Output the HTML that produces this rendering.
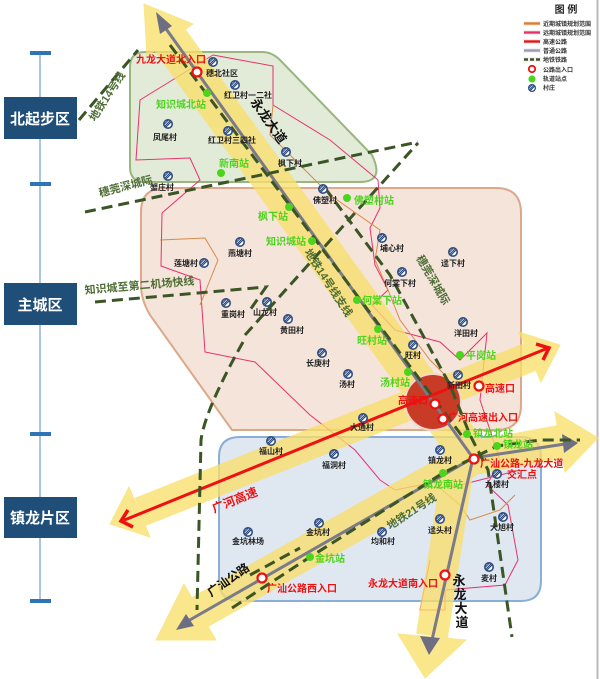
<!DOCTYPE html>
<html><head><meta charset="utf-8"><style>
html,body{margin:0;padding:0;background:#fff;}
svg{display:block;font-family:"Liberation Sans","Noto Sans CJK SC",sans-serif;}
.v{font-size:8px;font-weight:bold;fill:#222;text-anchor:middle;}
.s{font-size:10px;font-weight:bold;fill:#4cd41c;}
.r{font-size:10px;font-weight:bold;fill:#ee1111;}
.g{font-size:11px;font-weight:bold;fill:#4e6e35;}
.lg{font-size:6px;font-weight:bold;fill:#333;}
</style></head><body>
<svg width="600" height="679" viewBox="0 0 600 679" xmlns="http://www.w3.org/2000/svg">
<defs>
<g id="vil"><circle r="5" fill="#2c4b80"/><circle r="3.4" fill="#fff"/><line x1="-3" y1="2" x2="2" y2="-3" stroke="#2c4b80" stroke-width="1.2"/><line x1="-2" y1="3" x2="3" y2="-2" stroke="#2c4b80" stroke-width="1.2"/><line x1="-3.5" y1="0" x2="0" y2="-3.5" stroke="#2c4b80" stroke-width="1"/></g>
</defs>
<!-- right border -->
<line x1="597.5" y1="0" x2="597.5" y2="679" stroke="#bbb" stroke-width="2"/>
<!-- left axis -->
<line x1="40" y1="53" x2="40" y2="601" stroke="#8fb4dc" stroke-width="1.5"/>
<rect x="30" y="51" width="21" height="4" fill="#2e75b6"/>
<rect x="30" y="182" width="21" height="4" fill="#2e75b6"/>
<rect x="30" y="432" width="21" height="4" fill="#2e75b6"/>
<rect x="30" y="599" width="21" height="4" fill="#2e75b6"/>
<rect x="4" y="97" width="73" height="42" fill="#1f4e79"/>
<text x="40" y="124" font-size="15" font-weight="bold" fill="#fff" text-anchor="middle">北起步区</text>
<rect x="4" y="283" width="73" height="42" fill="#1f4e79"/>
<text x="40" y="310" font-size="15" font-weight="bold" fill="#fff" text-anchor="middle">主城区</text>
<rect x="4" y="497" width="73" height="41" fill="#1f4e79"/>
<text x="40" y="523" font-size="15" font-weight="bold" fill="#fff" text-anchor="middle">镇龙片区</text>

<!-- regions -->
<path d="M145,52 L262,52 Q272,52 280,60 L372,155 Q385,182 360,182 L145,182 Q130,182 130,167 L130,67 Q130,52 145,52 Z" fill="#e2ead8" stroke="#9ab57e" stroke-width="2"/>
<path d="M165,188 L496,188 Q521,188 521,213 L521,405 Q521,430 496,430 L232,430 L150,315 Q141,300 141,285 L141,212 Q141,188 165,188 Z" fill="#f4e4da" stroke="#dba98a" stroke-width="2"/>
<path d="M240,437 L521,437 Q541,437 541,457 L541,581 Q541,601 521,601 L240,601 Q219,601 219,581 L219,457 Q219,437 240,437 Z" fill="#dfe7f1" stroke="#8aaed6" stroke-width="2"/>

<!-- boundary lines -->
<polyline points="213,55 140,100 136,160 190,158 200,180 162,213 161,266 200,280 205,352 255,362 310,415 355,450 380,480 395,490 420,485 438,488 460,485 500,475 520,470" fill="none" stroke="#e8326e" stroke-width="1"/>
<polyline points="213,55 273,66 273,105 330,140 378,180 380,208 370,228 375,265 388,290 372,305 395,330 440,342 460,360 480,340 487,333 480,400 500,460 487,485 508,505 518,560 505,585 445,590 445,610 420,610 430,560" fill="none" stroke="#e8326e" stroke-width="1"/>
<polyline points="273,105 270,135 300,165 330,195 380,230 375,260 388,290 400,320 430,360 450,380" fill="none" stroke="#d9894a" stroke-width="1"/>
<polyline points="160,240 205,238 218,260 200,305" fill="none" stroke="#d9894a" stroke-width="1"/>
<polyline points="440,488 460,505 470,520 500,510 515,495" fill="none" stroke="#d9894a" stroke-width="1"/>

<!-- yellow bands -->
<g fill="#f9df6b" stroke="#f9df6b" opacity="0.78">
<polyline points="170,40 468,452" fill="none" stroke-width="38"/>
<polygon points="193,24 147,56 144,4"/>
<polyline points="462,440 432,636" fill="none" stroke-width="32"/>
<polygon points="466,640 398,634 425,678"/>
<polyline points="140,512 530,357" fill="none" stroke-width="30"/>
<polygon points="150,537 129,487 110,524"/>
<polygon points="541,382 519,332 560,345"/>
<polyline points="200,612 473,458 560,442" fill="none" stroke-width="34" stroke-linejoin="round"/>
<polygon points="216,640 184,584 156,640"/>
<polygon points="565,472 555,412 598,438"/>
</g>

<!-- red circle -->
<circle cx="433" cy="402" r="28" fill="#c42a1a" opacity="0.9" stroke="#f6d7cf" stroke-width="2"/>

<!-- gray roads -->
<g stroke="#7a7a88" stroke-width="3" fill="none">
<polyline points="164,26 473,458 432,640"/>
<polyline points="188,621 473,458 565,444"/>
</g>
<g fill="#6e6e82">
<polygon points="156,12 172,26 160,34"/>
<polygon points="429,655 420,636 440,638"/>
<polygon points="176,630 186,614 194,626"/>
<polygon points="578,443 562,434 564,453"/>
</g>

<!-- red highway -->
<line x1="122" y1="521" x2="548" y2="348" stroke="#ee1111" stroke-width="3"/>
<polyline points="128,510 121,521 133,527" fill="none" stroke="#ee1111" stroke-width="3.5"/>
<polyline points="536,344 549,348 543,360" fill="none" stroke="#ee1111" stroke-width="3.5"/>

<!-- dashed rail -->
<g stroke="#3b5525" stroke-width="3" fill="none" stroke-dasharray="11 6">
<line x1="170" y1="45" x2="465" y2="440"/>
<line x1="79" y1="120" x2="138" y2="50"/>
<line x1="85" y1="212" x2="418" y2="142"/>
<polyline points="95,302 266,287 250,310"/>
<line x1="245" y1="335" x2="418" y2="143"/>
<path d="M243,342 Q205,410 201,440 L197,610"/>
<polyline points="325,188 390,275 450,385 470,435 488,470 512,637"/>
<polyline points="232,608 310,557 443,473 497,446 540,440 580,440"/>
<line x1="250" y1="575" x2="300" y2="548"/>
</g>

<!-- villages -->
<g>
<use href="#vil" x="213" y="62"/><use href="#vil" x="235" y="85"/><use href="#vil" x="168" y="124"/><use href="#vil" x="228" y="131"/><use href="#vil" x="286" y="152"/><use href="#vil" x="168" y="176"/><use href="#vil" x="323" y="189"/><use href="#vil" x="240" y="242"/><use href="#vil" x="204" y="263"/><use href="#vil" x="382" y="238"/><use href="#vil" x="453" y="252"/><use href="#vil" x="402" y="272"/><use href="#vil" x="226" y="303"/><use href="#vil" x="267" y="302"/><use href="#vil" x="288" y="319"/><use href="#vil" x="463" y="322"/><use href="#vil" x="322" y="353"/><use href="#vil" x="348" y="374"/><use href="#vil" x="413" y="345"/><use href="#vil" x="458" y="375"/><use href="#vil" x="363" y="418"/><use href="#vil" x="271" y="441"/><use href="#vil" x="334" y="454"/><use href="#vil" x="440" y="450"/><use href="#vil" x="497" y="474"/><use href="#vil" x="248" y="532"/><use href="#vil" x="319" y="523"/><use href="#vil" x="382" y="532"/><use href="#vil" x="440" y="519"/><use href="#vil" x="503" y="517"/><use href="#vil" x="489" y="567"/>
</g>
<g class="v">
<text x="222" y="76">穗北社区</text><text x="248" y="98">红卫村一二社</text><text x="165" y="140">凤尾村</text><text x="232" y="143">红卫村三四社</text><text x="290" y="166">枫下村</text><text x="162" y="190">蟹庄村</text><text x="325" y="203">佛塑村</text><text x="240" y="256">燕塘村</text><text x="186" y="266">莲塘村</text><text x="392" y="251">埔心村</text><text x="453" y="266">迳下村</text><text x="400" y="286">何棠下村</text><text x="233" y="317">重岗村</text><text x="265" y="315">山龙村</text><text x="292" y="333">黄田村</text><text x="466" y="336">洋田村</text><text x="318" y="366">长庚村</text><text x="347" y="387">汤村</text><text x="413" y="358">旺村</text><text x="459" y="388">新田村</text><text x="362" y="430">大通村</text><text x="271" y="454">福山村</text><text x="334" y="468">福洞村</text><text x="440" y="463">镇龙村</text><text x="497" y="487">九楼村</text><text x="248" y="544">金坑林场</text><text x="318" y="535">金坑村</text><text x="383" y="544">均和村</text><text x="440" y="533">迳头村</text><text x="502" y="530">大旭村</text><text x="489" y="581">麦村</text>
</g>

<!-- stations -->
<g fill="#4cd41c">
<circle cx="207" cy="93" r="4"/><circle cx="221" cy="173" r="4"/><circle cx="289" cy="207" r="4"/><circle cx="312" cy="241" r="4"/><circle cx="347" cy="198" r="4"/><circle cx="357" cy="300" r="4"/><circle cx="378" cy="329" r="4"/><circle cx="408" cy="372" r="4"/><circle cx="460" cy="355" r="4"/><circle cx="467" cy="434" r="4"/><circle cx="497" cy="446" r="4"/><circle cx="443" cy="473" r="4"/><circle cx="310" cy="557" r="4"/>
</g>
<g class="s">
<text x="156" y="108">知识城北站</text><text x="219" y="167">新南站</text><text x="258" y="220">枫下站</text><text x="266" y="245">知识城站</text><text x="354" y="204">佛塑村站</text><text x="362" y="304">何棠下站</text><text x="357" y="344">旺村站</text><text x="380" y="386">汤村站</text><text x="466" y="359">平岗站</text><text x="473" y="437">镇龙北站</text><text x="503" y="448">镇龙站</text><text x="423" y="488">镇龙南站</text><text x="315" y="562">金坑站</text>
</g>

<!-- entrances -->
<g fill="#fff" stroke="#ee1111" stroke-width="2.2">
<circle cx="197" cy="72" r="4.5"/><circle cx="435" cy="404" r="4.5"/><circle cx="479" cy="386" r="4.5"/><circle cx="443" cy="419" r="4.5"/><circle cx="474" cy="459" r="4.5"/><circle cx="262" cy="578" r="4.5"/><circle cx="445" cy="575" r="4.5"/>
</g>
<g class="r">
<text x="136" y="63">九龙大道北入口</text><text x="398" y="404">高速口</text><text x="485" y="392">高速口</text><text x="448" y="421">广河高速出入口</text><text x="480" y="467">广汕公路-九龙大道</text><text x="507" y="478">交汇点</text><text x="267" y="592">广汕公路西入口</text><text x="368" y="587">永龙大道南入口</text>
</g>

<!-- road labels -->
<text transform="translate(250,102) rotate(55)" font-size="13" font-weight="bold" fill="#111">永龙大道</text>
<g font-size="13" font-weight="bold" fill="#111" text-anchor="middle">
<text x="459" y="585">永</text><text x="460" y="599">龙</text><text x="461" y="613">大</text><text x="462" y="627">道</text>
</g>
<text transform="translate(211,597) rotate(-35)" font-size="12" font-weight="bold" fill="#111">广汕公路</text>
<text transform="translate(214,513) rotate(-22)" font-size="12" font-weight="bold" fill="#ee1111">广河高速</text>
<text transform="translate(390,530) rotate(-33)" class="g">地铁21号线</text>
<text transform="translate(304,252) rotate(57)" class="g">地铁14号线支线</text>
<text transform="translate(95,122) rotate(-57)" class="g">地铁14号线</text>
<text transform="translate(100,197) rotate(-15)" class="g">穗莞深城际</text>
<text transform="translate(85,294) rotate(-5)" class="g">知识城至第二机场快线</text>
<text transform="translate(416,258) rotate(60)" class="g">穗莞深城际</text>

<!-- legend -->
<text x="566" y="13" font-size="10" font-weight="bold" fill="#222" text-anchor="middle">图  例</text>
<g stroke-width="2.4">
<rect x="523" y="21" width="18" height="5" fill="#f2f2f2"/><line x1="524" y1="23.5" x2="540" y2="23.5" stroke="#d9822b"/>
<rect x="523" y="30" width="18" height="5" fill="#f2f2f2"/><line x1="524" y1="32.5" x2="540" y2="32.5" stroke="#e8326e"/>
<rect x="523" y="39" width="18" height="5" fill="#f2f2f2"/><line x1="524" y1="41.5" x2="540" y2="41.5" stroke="#ee1111"/>
<rect x="523" y="48" width="18" height="5" fill="#f2f2f2"/><line x1="524" y1="50.5" x2="540" y2="50.5" stroke="#9a9ab0"/>
<rect x="523" y="57" width="18" height="5" fill="#f2f2f2"/><line x1="524" y1="59.5" x2="540" y2="59.5" stroke="#3b5525" stroke-dasharray="4 2"/>
</g>
<circle cx="532" cy="69" r="3.2" fill="#fff" stroke="#ee1111" stroke-width="1.8"/>
<circle cx="532" cy="79" r="3.6" fill="#4cd41c"/>
<use href="#vil" transform="translate(532,88) scale(0.8)"/>
<g class="lg">
<text x="543" y="26">近期城镇规划范围</text><text x="543" y="35">远期城镇规划范围</text><text x="543" y="44">高速公路</text><text x="543" y="53">普通公路</text><text x="543" y="62">地铁铁路</text><text x="543" y="72">公路出入口</text><text x="543" y="81">轨道站点</text><text x="543" y="90">村庄</text>
</g>
</svg>
</body></html>
